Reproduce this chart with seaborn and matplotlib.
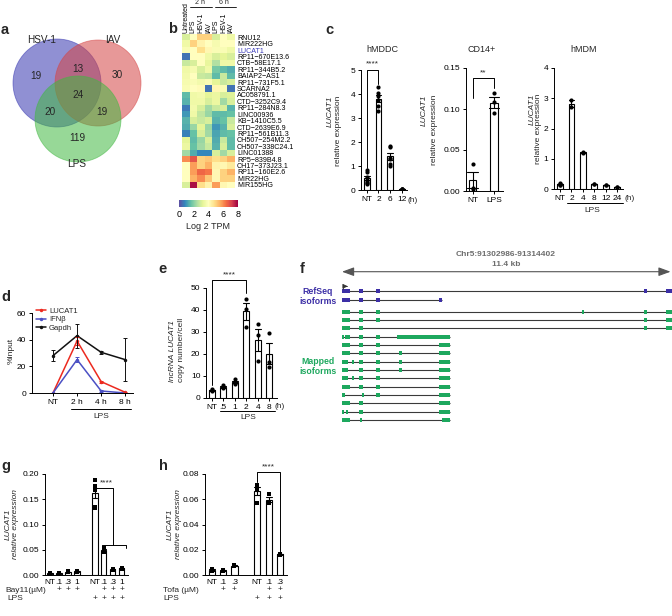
import numpy as np
import pandas as pd
import matplotlib
matplotlib.use('Agg')
import matplotlib.pyplot as plt
from matplotlib.patches import Circle, Rectangle
from matplotlib.lines import Line2D
from matplotlib.transforms import blended_transform_factory
import seaborn as sns

sns.set_theme(style='ticks')
plt.rcParams['font.family'] = ['Liberation Sans', 'DejaVu Sans']
plt.rcParams.update({
    'axes.linewidth': 0.7, 'xtick.major.width': 0.7, 'ytick.major.width': 0.7,
    'xtick.major.size': 2.5, 'ytick.major.size': 2.5,
    'xtick.labelsize': 6, 'ytick.labelsize': 6,
    'xtick.major.pad': 1.5, 'ytick.major.pad': 1.5,
    'xtick.color': 'black', 'ytick.color': 'black', 'axes.edgecolor': 'black',
})

# ---------------- data ----------------
venn_sets = ['HSV-1', 'IAV', 'LPS']
venn_regions = ['100', '010', '001', '110', '101', '011', '111']
venn_counts = [19, 30, 119, 13, 20, 19, 24]

hm_genes = ['RNU12', 'MIR222HG', 'LUCAT1', 'RP11\u2212670E13.6', 'CTB\u221258E17.1', 'RP11\u2212344B5.2',
            'BAIAP2\u2212AS1', 'RP11\u2212731F5.1', 'SCARNA2', 'AC058791.1', 'CTD\u22123252C9.4',
            'RP11\u2212284N8.3', 'LINC00936', 'KB\u22121410C5.5', 'CTD\u22122639E6.9', 'RP11\u2212561B11.3',
            'CH507\u2212254M2.2', 'CH507\u2212338C24.1', 'LINC01388', 'RP5\u2212839B4.8', 'CH17\u2212373J23.1',
            'RP11\u2212160E2.6', 'MIR22HG', 'MIR155HG']
hm_conditions = ['Untreated', 'LPS', 'HSV-1', 'IAV', 'LPS', 'HSV-1', 'IAV']
hm_values = [
    [3.0, 4.0, 5.0, 5.0, 3.0, 4.0, 3.5],
    [3.5, 5.0, 4.3, 4.0, 3.7, 4.0, 4.0],
    [3.8, 4.0, 4.8, 4.2, 3.8, 3.8, 3.5],
    [0.5, 4.0, 4.0, 3.5, 3.0, 3.2, 3.0],
    [2.8, 3.0, 4.0, 3.3, 2.5, 3.5, 3.5],
    [3.5, 3.7, 3.0, 3.5, 1.8, 1.5, 1.3],
    [3.6, 4.0, 2.8, 2.7, 1.5, 2.8, 1.5],
    [3.7, 3.8, 3.6, 3.8, 3.2, 2.8, 3.0],
    [3.8, 4.0, 4.1, 0.5, 4.2, 3.8, 0.5],
    [1.5, 3.5, 3.6, 3.2, 3.4, 3.0, 3.1],
    [1.4, 3.5, 3.5, 3.0, 3.4, 2.3, 3.0],
    [0.6, 3.6, 3.0, 2.3, 2.8, 3.0, 1.4],
    [1.0, 3.5, 2.7, 2.2, 1.5, 1.5, 1.6],
    [1.4, 3.0, 2.8, 3.0, 1.4, 1.6, 2.8],
    [1.3, 2.2, 3.2, 2.2, 1.0, 1.4, 3.0],
    [0.7, 1.6, 3.0, 2.3, 1.2, 1.5, 1.6],
    [3.2, 1.5, 2.2, 3.0, 1.3, 2.8, 1.5],
    [3.4, 1.6, 2.3, 2.8, 1.4, 3.0, 1.5],
    [2.3, 1.3, 0.8, 0.8, 3.0, 2.3, 3.0],
    [6.0, 6.8, 5.0, 5.2, 4.8, 5.0, 5.5],
    [4.0, 5.8, 5.0, 5.5, 4.3, 4.2, 4.5],
    [4.0, 5.8, 6.5, 6.3, 4.2, 5.0, 5.5],
    [4.0, 5.5, 6.0, 5.2, 4.2, 5.0, 5.0],
    [3.0, 7.8, 4.8, 4.3, 5.8, 4.2, 4.0],
]

c1_groups = ['NT', '2', '6', '12']
c1_values = [[0.85, 0.75, 0.55, 0.35, 0.3, 0.25, 0.4],
             [4.3, 4.05, 3.9, 3.75, 3.5, 3.3],
             [1.85, 1.8, 1.3, 1.1, 1.0, 1.35],
             [0.05, 0.06, 0.04, 0.05]]

c2_groups = ['NT', 'LPS']
c2_values = [[0.033, 0.004, 0.003], [0.119, 0.109, 0.095]]

c3_groups = ['NT', '2', '4', '8', '12', '24']
c3_values = [[0.2, 0.18, 0.16, 0.14, 0.13], [2.95, 2.7], [1.19, 1.22], [0.18, 0.16], [0.14, 0.12], [0.08, 0.06]]

d_times = ['NT', '2 h', '4 h', '8 h']
d_series = ['LUCAT1', 'IFN\u03b2', 'Gapdh']
d_lucat1 = [0, 39, 8.5, 0.5]
d_lucat1_err = [0, 3, 0.8, 0.3]
d_ifnb = [0, 25, 1.5, 0]
d_ifnb_err = [0, 2, 0.6, 0]
d_gapdh = [28, 43, 30.5, 25]
d_gapdh_err = [4, 9, 1, 16]

e_groups = ['NT', '.5', '1', '2', '4', '8']
e_values = [[4, 3.5, 3.2], [6, 5, 4.5], [8.5, 7, 6.5], [45, 40.5, 32.5], [33.5, 28.5, 17], [29.7, 16.4, 14.2]]

g_keys = ['NT', '.1', '.3', '1', 'LPS NT', 'LPS .1', 'LPS .3', 'LPS 1']
g_ticklabels = ['NT', '.1', '.3', '1', 'NT', '.1', '.3', '1']
g_values = [[0.004, 0.003, 0.002], [0.004, 0.003, 0.002], [0.007, 0.006, 0.005], [0.008, 0.007, 0.006],
            [0.188, 0.176, 0.173, 0.168, 0.135, 0.132], [0.053, 0.05, 0.046], [0.012, 0.011, 0.010],
            [0.014, 0.013, 0.012]]
g_bay11 = ['', '+', '+', '+', '', '+', '+', '+']
g_lps = ['', '', '', '', '+', '+', '+', '+']

h_keys = ['NT', '.1', '.3', 'LPS NT', 'LPS .1', 'LPS .3']
h_ticklabels = ['NT', '.1', '.3', 'NT', '.1', '.3']
h_values = [[0.005, 0.004, 0.003], [0.004, 0.003, 0.003], [0.008, 0.007, 0.007],
            [0.071, 0.069, 0.068, 0.057], [0.064, 0.058, 0.057], [0.017, 0.016, 0.016]]
h_tofa = ['', '+', '+', '', '+', '+']
h_lps = ['', '', '', '+', '+', '+']

# gene model (kb from start of region)
region_kb = 11.4
refseq_exons = [
    [(0, 0.28), (0.6, 0.74), (1.17, 1.31), (10.43, 10.52), (11.2, 11.4)],
    [(0, 0.28), (0.6, 0.74), (1.17, 1.31), (3.36, 3.45)],
]
mapped_exons = [
    [(0, 0.28), (0.6, 0.74), (1.17, 1.31), (8.3, 8.36), (10.43, 10.52), (11.2, 11.4)],
    [(0, 0.28), (0.6, 0.74), (1.17, 1.31), (10.43, 10.52), (11.2, 11.4)],
    [(0, 0.28), (0.6, 0.74), (10.43, 10.52), (11.2, 11.4)],
    [(0, 0.04), (0.12, 0.28), (0.6, 0.74), (1.17, 1.31), (1.89, 3.74)],
    [(0, 0.28), (0.6, 0.74), (1.17, 1.31), (3.36, 3.74)],
    [(0, 0.28), (0.6, 0.74), (1.17, 1.31), (1.98, 2.08), (3.36, 3.74)],
    [(0, 0.2), (0.36, 0.4), (0.6, 0.74), (1.17, 1.31), (1.98, 2.08), (3.36, 3.74)],
    [(0, 0.2), (0.6, 0.74), (1.17, 1.31), (1.98, 2.08), (3.36, 3.74)],
    [(0, 0.2), (0.36, 0.4), (0.6, 0.74), (1.17, 1.31), (3.36, 3.74)],
    [(0, 0.28), (0.6, 0.74), (1.17, 1.31), (3.36, 3.74)],
    [(0, 0.12), (0.7, 0.74), (1.17, 1.31), (3.36, 3.74)],
    [(0, 0.28), (0.6, 0.74), (3.36, 3.74)],
    [(0, 0.04), (0.13, 0.21), (0.6, 0.74), (3.36, 3.74)],
    [(0, 0.28), (0.62, 0.66), (3.47, 3.74)],
]

# ---------------- helpers ----------------
W, H = 672, 616
fig = plt.figure(figsize=(W / 100, H / 100), dpi=100)


def axpx(x0, y0, x1, y1):
    return fig.add_axes([x0 / W, 1 - y1 / H, (x1 - x0) / W, (y1 - y0) / H])


def ftext(x, y, s, **kw):
    kw.setdefault('ha', 'center')
    kw.setdefault('va', 'center')
    fig.text(x / W, 1 - y / H, s, **kw)


def fline(x0, x1, y, lw=0.7, color='black'):
    fig.add_artist(Line2D([x0 / W, x1 / W], [1 - y / H, 1 - y / H], transform=fig.transFigure,
                          color=color, lw=lw))


def bar_panel(ax, keys, values, order, width, marker='o', msize=3.0):
    df = pd.DataFrame({'group': np.repeat(keys, [len(v) for v in values]),
                       'value': np.concatenate(values)})
    sns.barplot(data=df, x='group', y='value', order=order, errorbar='se', color='white',
                saturation=1, edgecolor='black', linewidth=0.8, width=width, capsize=0.5,
                err_kws={'color': 'black', 'linewidth': 0.8}, ax=ax)
    sns.stripplot(data=df, x='group', y='value', order=order, color='black', size=msize,
                  marker=marker, jitter=False, ax=ax, zorder=5, linewidth=0)
    sns.despine(ax=ax)
    ax.set_xlabel('')
    ax.set_ylabel('')


def ylab(x, y, s, italic=False, va='top'):
    ftext(x, y, s, rotation=90, fontsize=6, va=va, ha='center',
          style='italic' if italic else 'normal')


# panel letters
for lab, (x, y) in {'a': (1, 30), 'b': (168, 29), 'c': (325, 30), 'd': (1, 297), 'e': (158, 269),
                    'f': (300, 269), 'g': (1, 466), 'h': (159, 466)}.items():
    ftext(x, y, lab, ha='left', fontsize=10.5, weight='bold')

# ---------------- a: Venn ----------------
axa = axpx(0, 28, 170, 178)
axa.set_xlim(0, 170)
axa.set_ylim(178, 28)
axa.axis('off')
circ = {'HSV-1': ((57, 83), 44, '#3535b0'), 'IAV': ((98, 83), 43, '#d54444'), 'LPS': ((78, 119), 43, '#42b842')}
for name in venn_sets:
    (cx, cy), r, col = circ[name]
    axa.add_patch(Circle((cx, cy), r, facecolor=col, alpha=0.55, edgecolor=col, lw=0.6))
set_lab_pos = {'HSV-1': (42, 40), 'IAV': (113, 40), 'LPS': (77, 164)}
for name in venn_sets:
    axa.text(*set_lab_pos[name], name, ha='center', va='center', fontsize=7.2)
count_pos = {'100': (36, 76), '010': (117, 75), '001': (77, 138), '110': (78, 69),
             '101': (50, 112), '011': (102, 112), '111': (78, 95)}
for reg, n in zip(venn_regions, venn_counts):
    axa.text(*count_pos[reg], str(n), ha='center', va='center', fontsize=7.2)

# ---------------- b: heatmap ----------------
axb = axpx(182, 34, 235, 188)
caxb = axpx(179, 200, 238, 207)
hm_df = pd.DataFrame(hm_values, index=hm_genes)
sns.heatmap(hm_df, cmap='Spectral_r', vmin=0, vmax=8, ax=axb, cbar_ax=caxb,
            cbar_kws={'orientation': 'horizontal', 'ticks': [0, 2, 4, 6, 8]},
            xticklabels=False, yticklabels=False)
axb.yaxis.tick_right()
axb.set_yticks(np.arange(len(hm_genes)) + 0.5)
axb.set_yticklabels(hm_genes, fontsize=5.1, rotation=0)
axb.tick_params(axis='y', length=0, pad=1.5)
axb.get_yticklabels()[hm_genes.index('LUCAT1')].set_color('#3a3ab8')
axb.xaxis.tick_top()
axb.set_xticks(np.arange(len(hm_conditions)) + 0.5)
axb.set_xticklabels(hm_conditions, rotation=90, fontsize=5)
axb.tick_params(axis='x', length=0, pad=1)
axb.set_xlabel('')
axb.set_ylabel('')
cb = axb.collections[0].colorbar
cb.outline.set_visible(False)
caxb.tick_params(labelsize=6.5, length=0, pad=2)
caxb.set_xlabel('Log 2 TPM', fontsize=6.5, labelpad=2)
ftext(200, 3, '2 h', fontsize=5)
fline(190, 212, 6.5, lw=0.6)
ftext(224, 3, '6 h', fontsize=5)
fline(215, 236, 6.5, lw=0.6)

# ---------------- c: bars ----------------
axc1 = axpx(361, 70, 407, 190)
bar_panel(axc1, c1_groups, c1_values, c1_groups, 0.5)
axc1.set_xlim(-0.5, 3.45)
axc1.set_ylim(0, 5)
axc1.set_yticks(range(6))
axc1.set_xticks(range(4))
axc1.set_xticklabels(c1_groups)
axc1.plot([0, 0, 1, 1], [0.9, 5.0, 5.0, 4.4], color='black', lw=0.7, clip_on=False)
axc1.text(0.5, 5.1, '****', ha='center', va='bottom', fontsize=6)
ftext(413, 200, '(h)', fontsize=6)
ftext(382, 49, 'hMDDC', fontsize=6.5)
ylab(330.5, 96, 'LUCAT1', italic=True)
ylab(338.5, 96, 'relative expression')

axc2 = axpx(466, 68, 503, 191)
bar_panel(axc2, c2_groups, c2_values, c2_groups, 0.33)
axc2.set_xlim(-0.31, 1.42)
axc2.set_ylim(0, 0.15)
axc2.set_yticks([0, 0.05, 0.10, 0.15])
axc2.set_yticklabels(['0.00', '0.05', '0.10', '0.15'])
axc2.plot([0, 0, 1, 1], [0.113, 0.1375, 0.1375, 0.126], color='black', lw=0.7, clip_on=False)
axc2.text(0.5, 0.14, '**', ha='center', va='bottom', fontsize=6)
ftext(482, 49, 'CD14+', fontsize=6.5)
ylab(424, 95, 'LUCAT1', italic=True)
ylab(435, 95, 'relative expression')

axc3 = axpx(554, 68, 623, 189)
bar_panel(axc3, c3_groups, c3_values, c3_groups, 0.5)
axc3.set_xlim(-0.53, 5.52)
axc3.set_ylim(0, 4)
axc3.set_yticks(range(5))
ftext(630, 199, '(h)', fontsize=6)
fline(566.7, 622.7, 203)
ftext(592, 211, 'LPS', fontsize=6)
ftext(584, 49, 'hMDM', fontsize=6.5)
ylab(532, 94, 'LUCAT1', italic=True)
ylab(539, 94, 'relative expression')

# ---------------- d: ChIP line plot ----------------
axd = axpx(32, 313, 133, 393)
d_df = pd.DataFrame({
    'time': np.tile(np.arange(len(d_times)), 3),
    'value': d_lucat1 + d_ifnb + d_gapdh,
    'err': d_lucat1_err + d_ifnb_err + d_gapdh_err,
    'series': np.repeat(d_series, len(d_times)),
})
d_pal = {'LUCAT1': '#ec2a1f', 'IFN\u03b2': '#4b50c4', 'Gapdh': '#111111'}
sns.lineplot(data=d_df, x='time', y='value', hue='series', hue_order=d_series, palette=d_pal,
             marker='o', markersize=2.5, markeredgewidth=0, linewidth=1.1, ax=axd)
for s in d_series:
    sub = d_df[d_df.series == s]
    axd.errorbar(sub.time, sub.value, yerr=sub.err, fmt='none', ecolor=d_pal[s], elinewidth=0.7,
                 capsize=1.5, capthick=0.7)
sns.despine(ax=axd)
axd.set_xlim(-0.87, 3.32)
axd.set_ylim(0, 60)
axd.set_yticks([0, 20, 40, 60])
axd.set_xticks(range(len(d_times)))
axd.set_xticklabels(d_times)
axd.set_xlabel('')
axd.set_ylabel('')
leg = axd.legend(loc='upper left', bbox_to_anchor=(0.04, 1.07), frameon=False, fontsize=5.5,
                 handlelength=1.3, handletextpad=0.4, labelspacing=0.15, borderaxespad=0, borderpad=0)
fline(70.7, 131, 409)
ftext(101, 417, 'LPS', fontsize=6)
ylab(11.7, 351, '%Input', va='center')

# ---------------- e: copy number ----------------
axe = axpx(206, 288, 277, 398)
bar_panel(axe, e_groups, e_values, e_groups, 0.55)
axe.set_xlim(-0.5, 5.67)
axe.set_ylim(0, 50)
axe.set_yticks(range(0, 51, 10))
axe.plot([0, 0, 3, 3], [5.8, 53.5, 53.5, 47.7], color='black', lw=0.7, clip_on=False)
axe.text(1.5, 54.3, '****', ha='center', va='bottom', fontsize=6)
ftext(280, 406, '(h)', fontsize=6)
fline(220, 275, 410.5)
ftext(248, 417.5, 'LPS', fontsize=6)
ylab(173, 382, 'lncRNA LUCAT1', italic=True, va='bottom')
ylab(181.5, 382, 'copy number/cell', va='bottom')

# ---------------- f: gene models ----------------
axf = axpx(342, 262, 672, 425)
axf.set_xlim(0, region_kb)
axf.set_ylim(425, 262)
axf.axis('off')
blue, green = '#3c2fa6', '#1da85e'


def draw_model(exons, y, col, h=4.2):
    axf.plot([exons[0][0], exons[-1][1]], [y, y], color='#3a3a3a', lw=0.8, zorder=1,
             solid_capstyle='butt')
    for s, e in exons:
        w = max(e - s, 0.07)
        axf.add_patch(Rectangle((s, y - h / 2), w, h, facecolor=col, edgecolor='none', zorder=2,
                                clip_on=False))


for i, ex in enumerate(refseq_exons):
    draw_model(ex, 291 + 9 * i, blue)
for i, ex in enumerate(mapped_exons):
    draw_model(ex, 311.7 + 8.33 * i, green)
axf.plot([0.03, 0.03, 0.16], [289, 286.3, 286.3], color='#333', lw=0.6)
axf.annotate('', xy=(0.2, 286.3), xytext=(0.14, 286.3),
             arrowprops=dict(arrowstyle='-|>,head_length=0.25,head_width=0.12', color='#333', lw=0.5))
axf.annotate('', xy=(region_kb - 0.05, 271.7), xytext=(0.0, 271.7), annotation_clip=False,
             arrowprops=dict(arrowstyle='<|-|>,head_length=0.6,head_width=0.22', color='#555',
                             lw=0.8, shrinkA=0, shrinkB=0))
ftext(506, 254, 'Chr5:91302986-91314402', fontsize=6, color='#6d6d6d', weight='bold')
ftext(506, 264, '11.4 kb', fontsize=6, color='#6d6d6d', weight='bold')
ftext(318, 291, 'RefSeq', fontsize=6.3, color=blue, weight='bold')
ftext(318, 301.5, 'isoforms', fontsize=6.3, color=blue, weight='bold')
ftext(318, 361, 'Mapped', fontsize=6.3, color=green, weight='bold')
ftext(318, 371, 'isoforms', fontsize=6.3, color=green, weight='bold')

# ---------------- g: Bay11 ----------------
axg = axpx(45, 474, 128, 575)
g_order = g_keys[:4] + ['_gap'] + g_keys[4:]
bar_panel(axg, g_keys, g_values, g_order, 0.6, marker='s', msize=2.8)
g_pos = [g_order.index(k) for k in g_keys]
axg.set_xlim(-0.56, 8.7)
axg.set_ylim(0, 0.2)
axg.set_yticks([0, 0.05, 0.10, 0.15, 0.20])
axg.set_yticklabels(['0.00', '0.05', '0.10', '0.15', '0.20'])
axg.set_xticks(g_pos)
axg.set_xticklabels(g_ticklabels)
axg.tick_params(axis='x', length=0, pad=3)
axg.plot([5, 7.05, 7.05], [0.172, 0.172, 0.0594], color='black', lw=0.7, clip_on=False)
axg.plot([5.8, 5.8, 8.5, 8.5], [0.053, 0.0594, 0.0594, 0.053], color='black', lw=0.7, clip_on=False)
axg.text(6.25, 0.1745, '****', ha='center', va='bottom', fontsize=6)
trg = blended_transform_factory(axg.transData, fig.transFigure)
for p, b, l in zip(g_pos, g_bay11, g_lps):
    axg.text(p, 1 - 590 / H, b, transform=trg, ha='center', va='center', fontsize=6)
    axg.text(p, 1 - 598.5 / H, l, transform=trg, ha='center', va='center', fontsize=6)
ftext(5, 590, 'Bay11(\u00b5M)', ha='left', fontsize=6)
ftext(7, 598.5, 'LPS', ha='left', fontsize=6)
ylab(8, 524, 'LUCAT1', italic=True, va='center')
ylab(16, 524, 'relative expression', italic=True, va='center')

# ---------------- h: Tofa ----------------
axh = axpx(205, 474, 287, 575)
h_order = h_keys[:3] + ['_gap'] + h_keys[3:]
bar_panel(axh, h_keys, h_values, h_order, 0.55, marker='s', msize=2.8)
h_pos = [h_order.index(k) for k in h_keys]
axh.set_xlim(-0.59, 6.61)
axh.set_ylim(0, 0.08)
axh.set_yticks([0, 0.02, 0.04, 0.06, 0.08])
axh.set_yticklabels(['0.00', '0.02', '0.04', '0.06', '0.08'])
axh.set_xticks(h_pos)
axh.set_xticklabels(h_ticklabels)
axh.tick_params(axis='x', length=0, pad=3)
axh.plot([4, 4, 6, 6], [0.074, 0.0818, 0.0818, 0.018], color='black', lw=0.7, clip_on=False)
axh.text(5, 0.0828, '****', ha='center', va='bottom', fontsize=6)
trh = blended_transform_factory(axh.transData, fig.transFigure)
for p, t, l in zip(h_pos, h_tofa, h_lps):
    axh.text(p, 1 - 590 / H, t, transform=trh, ha='center', va='center', fontsize=6)
    axh.text(p, 1 - 598.5 / H, l, transform=trh, ha='center', va='center', fontsize=6)
ftext(163, 590, 'Tofa (\u00b5M)', ha='left', fontsize=6)
ftext(163, 598.5, 'LPS', ha='left', fontsize=6)
ylab(170.5, 524, 'LUCAT1', italic=True, va='center')
ylab(178.5, 524, 'relative expression', italic=True, va='center')

fig.savefig('out.png', dpi=100)
